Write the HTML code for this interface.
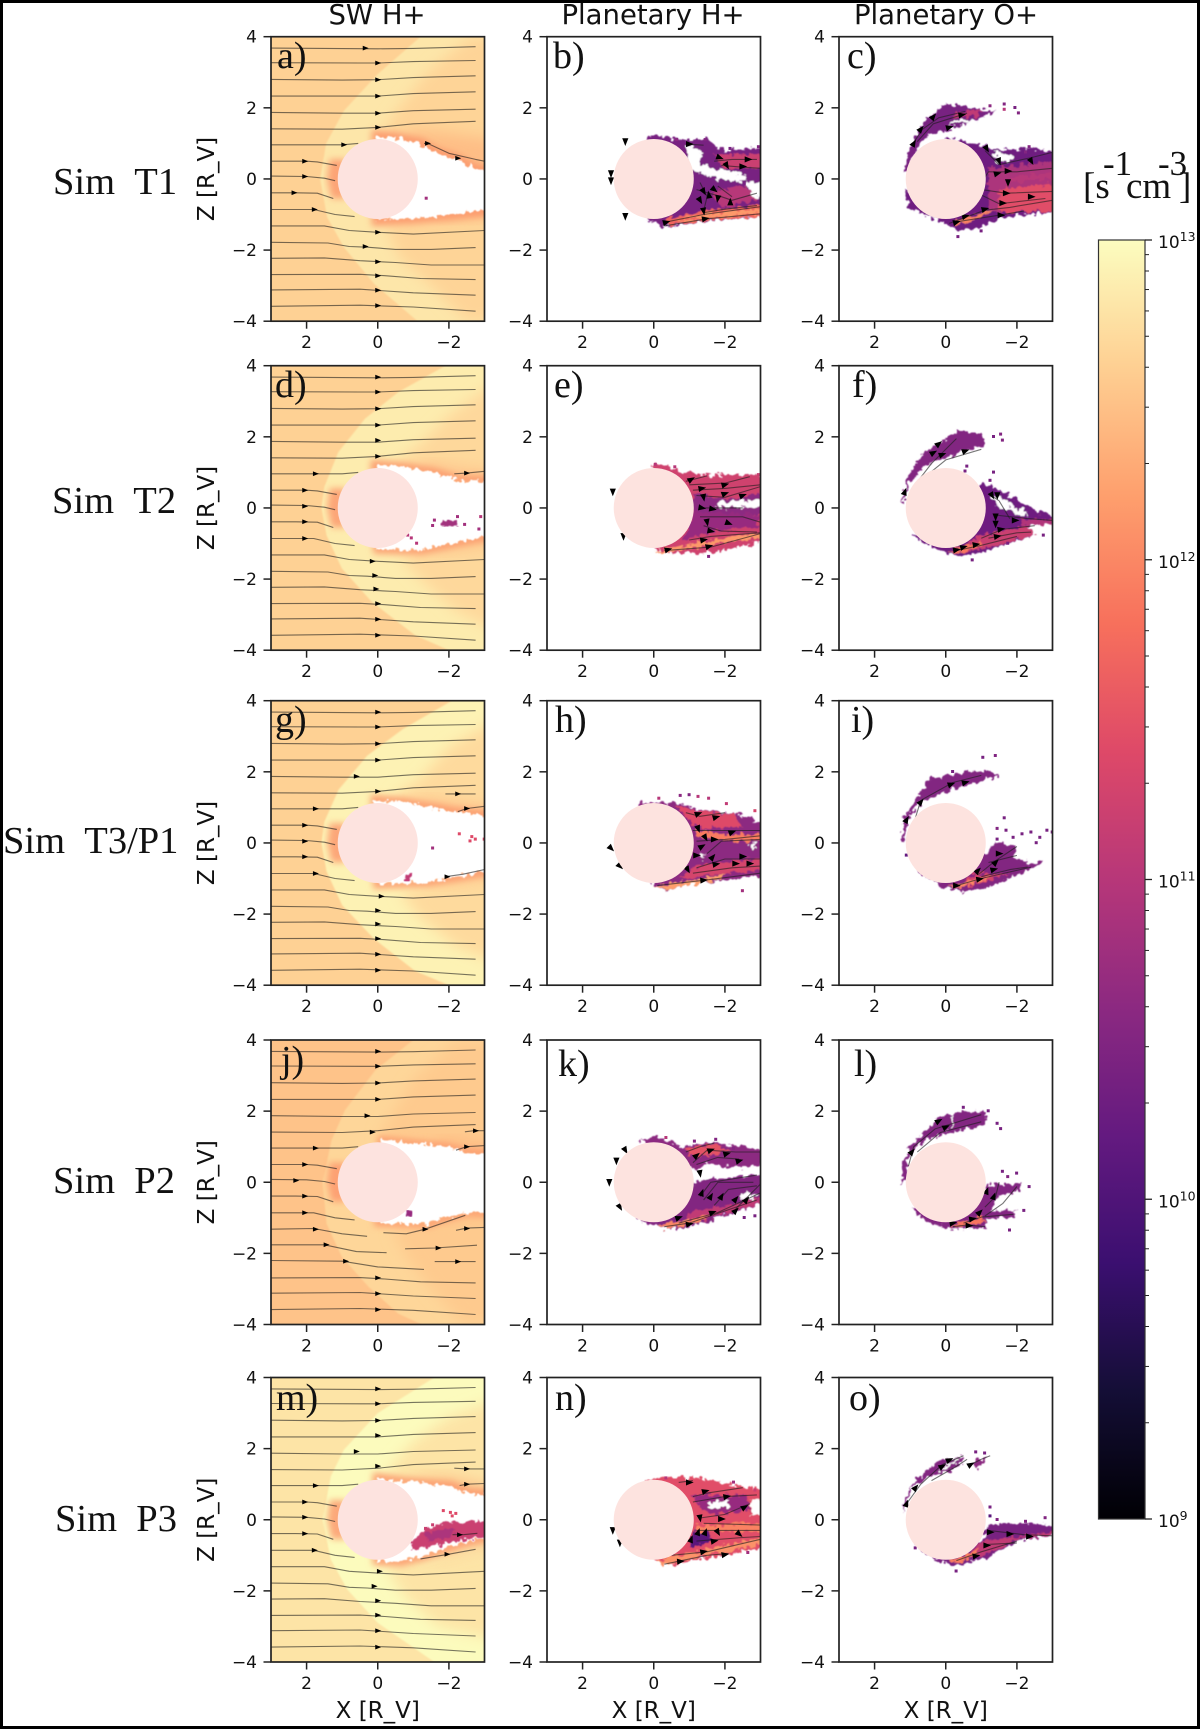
<!DOCTYPE html>
<html lang="en">
<head>
<meta charset="utf-8">
<title>Ion production rate maps</title>
<style>
html,body{margin:0;padding:0;background:#fff;}
svg{display:block;}
.dj{font-family:"DejaVu Sans","Liberation Sans",sans-serif;fill:#111;}
.tm{font-family:"Liberation Serif","Times New Roman",serif;fill:#111;}
</style>
</head>
<body>
<svg id="figure" xmlns="http://www.w3.org/2000/svg" width="1200" height="1729" viewBox="0 0 1200 1729">
  <defs>
    <filter id="soft" x="-10%" y="-10%" width="120%" height="120%"><feGaussianBlur stdDeviation="0.7"/></filter>
    <filter id="tailBlur" x="-20%" y="-20%" width="140%" height="140%"><feGaussianBlur stdDeviation="7"/></filter>
    <filter id="haloBlur" x="-20%" y="-20%" width="140%" height="140%"><feGaussianBlur stdDeviation="3.5"/></filter>
    <filter id="rough" x="-10%" y="-10%" width="120%" height="120%">
      <feTurbulence type="fractalNoise" baseFrequency="0.2" numOctaves="2" seed="4" result="n"/>
      <feDisplacementMap in="SourceGraphic" in2="n" scale="10" xChannelSelector="R" yChannelSelector="G" result="d"/>
      <feGaussianBlur in="d" stdDeviation="0.4"/>
    </filter>
  </defs>
  <rect x="0" y="0" width="1200" height="1729" fill="#fff"/>

  <g id="panels"></g>
  <g id="colorbar"></g>

  <text class="dj" x="377" y="24" font-size="27.5" text-anchor="middle">SW H+</text>
  <text class="dj" x="653" y="24" font-size="27.5" text-anchor="middle">Planetary H+</text>
  <text class="dj" x="946" y="24" font-size="27.5" text-anchor="middle">Planetary O+</text>

  <text class="tm" x="53" y="194" font-size="38.5">Sim&#160;&#160;T1</text>
  <text class="tm" x="52" y="513" font-size="38.5">Sim&#160;&#160;T2</text>
  <text class="tm" x="3" y="853" font-size="38.5">Sim&#160;&#160;T3/P1</text>
  <text class="tm" x="53" y="1193" font-size="38.5">Sim&#160;&#160;P2</text>
  <text class="tm" x="55" y="1531" font-size="38.5">Sim&#160;&#160;P3</text>

  <g id="panel-letters" class="tm" font-size="38">
    <text class="tm" x="277" y="68">a)</text>
    <text class="tm" x="553" y="68">b)</text>
    <text class="tm" x="847" y="68">c)</text>
    <text class="tm" x="275" y="397">d)</text>
    <text class="tm" x="554" y="397">e)</text>
    <text class="tm" x="852" y="397">f)</text>
    <text class="tm" x="275" y="732">g)</text>
    <text class="tm" x="555" y="732">h)</text>
    <text class="tm" x="851" y="732">i)</text>
    <text class="tm" x="281" y="1072">j)</text>
    <text class="tm" x="558" y="1076">k)</text>
    <text class="tm" x="854" y="1076">l)</text>
    <text class="tm" x="276" y="1410">m)</text>
    <text class="tm" x="555" y="1410">n)</text>
    <text class="tm" x="849" y="1410">o)</text>
  </g>

  <g class="tm" font-size="37">
    <text class="tm" x="1083" y="198">[s</text>
    <text class="tm" x="1103" y="175" font-size="35">-1</text>
    <text class="tm" x="1126" y="198">cm</text>
    <text class="tm" x="1158" y="175" font-size="35">-3</text>
    <text class="tm" x="1179" y="198">]</text>
  </g>

  <rect x="1.5" y="1.5" width="1197" height="1726" fill="none" stroke="#000" stroke-width="3"/>
</svg>

<script>
/* ---------- shared axis data ---------- */
const xTicks = [2, 0, -2];
const zTicks = [4, 2, 0, -2, -4];
const xRange = [3, -3];
const zRange = [4, -4];
const colorDecades = [13, 12, 11, 10, 9];
const minorMultipliers = [2, 3, 4, 5, 6, 7, 8, 9];
const magmaStops = ['#000004','#140e36','#3b0f70','#641a80','#8c2981','#b73779','#de4968','#f7705c','#fe9f6d','#fecf92','#fcfdbf'];
const planetRadius = 1.125;
const rowNames = ['t1','t2','t3-p1','p2','p3'];

/* ---------- solar-wind panels (a, d, g, j, m): log10 levels ---------- */
const upstreamLevels = [12.62, 12.62, 12.62, 12.5, 12.78];
const sheathLevels = [12.80, 12.85, 12.90, 12.66, 12.98];
const tailLevels = [12.64, 12.68, 12.70, 12.56, 12.78];
const haloLevel = 12.1;
const haloWidths = [12, 9, 9, 7, 10];

const shockCurves = [
 [-1.2,4, 0,2.95, .95,1.92, 1.45,1, 1.62,0, 1.42,-1.08, .95,-1.92, .1,-2.95, -1.12,-4],
 [-1.9,4, -.58,3.26, .36,2.51, 1.11,1.57, 1.5,.6, 1.58,0, 1.44,-.77, 1.01,-1.7, .17,-2.64, -1.05,-3.58, -2,-4],
 [-2.08,4, -.7,3.2, .3,2.45, 1.1,1.5, 1.5,.6, 1.58,0, 1.44,-.8, 1,-1.75, .1,-2.7, -1.05,-3.6, -2,-4],
 [-1,4, .07,3.15, .92,2.03, 1.3,1.18, 1.55,0, 1.44,-1.16, 1.01,-2.1, .26,-2.94, -.58,-3.7, -1.24,-4],
 [-1.59,4, 0,3, .95,1.97, 1.32,1.22, 1.55,0, 1.32,-1.12, .85,-1.97, 0,-2.9, -1.59,-4]
];
const tailAreas = [
 [-2.6,4,-1.4,3,-.6,2,-.1,1.3,-3,.3,-3,-.8,-.2,-1.3,-.6,-2.2,-1.6,-3.1,-2.5,-4,-3.4,-4,-3.4,4],
 [-3.4,3.6,-2,2.6,-1.2,1.8,-.5,1.3,-3,.3,-3,-.8,-.6,-1.4,-1.3,-2.1,-2.2,-2.9,-3.4,-3.5],
 [-3.4,3.5,-2,2.7,-1.2,1.8,-.4,1.3,-3,.3,-3,-.8,-.6,-1.4,-1.2,-2.1,-2.2,-2.9,-3.4,-3.4],
 [-2.2,4,-1,2.9,-.4,1.9,0,1.3,-3,.3,-3,-.8,-.4,-1.3,-.8,-2.1,-1.5,-3,-2.4,-4,-3.4,-4,-3.4,4],
 [-3.4,3.4,-2,2.9,-1,2.2,-.2,1.3,-3,.3,-3,-.8,-.2,-1.3,-.7,-2.1,-1.7,-3,-3.4,-3.4]
];
const noseHalo = [1.35,.55, 1.42,0, 1.3,-.55, .9,-.55, .9,.55];
const haloPatches = [
 [[-.8,1.38,-1.8,1.3,-3.3,1.1,-3.3,.05,-2,.6,-1,1],[-1.5,-1.1,-3.3,-.7,-3.3,-1.05,-1.8,-1.2]],
 [[-1.2,1.3,-2.2,1.1,-3.3,1,-3.3,.65,-1.5,.95],[-1.3,-1.28,-2.3,-1.15,-3.3,-1,-3.3,-.65,-2,-.95]],
 [[-1,1.3,-2,1.15,-3.3,1,-3.3,.7,-1.5,.95],[-1.3,-1.25,-2.3,-1.1,-3.3,-.95,-3.3,-.65,-2.2,-.85]],
 [[-1.6,1.25,-3.3,1.05,-3.3,.7,-1.8,.95],[-1.6,-1.2,-2.5,-1,-3.3,-.98,-3.3,-.8,-2.2,-.9]],
 [[-.9,1.3,-2.2,1.2,-3.3,.95,-3.3,.6,-2,.9],[-1.2,-1.22,-2.4,-.95,-3.3,-.75,-3.3,-.42,-2.3,-.7]]
];
const wakeOutlines = [
 [0,1.2,-.5,1.15,-1.2,.98,-1.6,.75,-2.2,.55,-2.7,.3,-3.3,.12,-3.3,-.85,-2,-1,-1,-1.1,0,-1.15],
 [.07,1.22,-.77,1.15,-1.52,1.01,-2.27,.78,-3.3,.75,-3.3,-.75,-2.08,-1,-1.24,-1.19,0,-1.16],
 [.07,1.22,-.77,1.15,-1.43,1.01,-2.18,.87,-3.3,.76,-3.3,-.75,-2.46,-.91,-1.43,-1.1,0,-1.16],
 [-.1,1.2,-.96,1.1,-1.9,1,-2.46,.85,-3.3,.77,-3.3,-.86,-2.46,-.86,-1.7,-1.07,-1.43,-1.18,0,-1.14],
 [0,1.17,-.65,1.08,-2.05,.94,-2.53,.75,-3.3,.68,-3.3,-.42,-2.33,-.66,-1.2,-1.03,-.65,-1.17,0,-1.14]
];
const wakeInclusions = [
 [],
 [[10.8,[-1.8,-.35,-2.2,-.35,-2.25,-.52,-1.8,-.52]]],
 [[11.1,[-.75,-.9,-.95,-.85,-.95,-1.05,-.75,-1.05]]],
 [[10.7,[-.8,-.82,-.95,-.8,-.95,-.95,-.8,-.95]]],
 [[11.2,[-1.02,-.56,-1.3,-.28,-1.87,-.09,-3.3,0,-3.3,-.42,-2.24,-.61,-.93,-.84]],
  [10.9,[-1.3,-.4,-1.9,-.25,-2.2,-.25,-2.1,-.45,-1.4,-.6]]]
];
const wakeSpecks = [
 [[-1.32,-.5,10.8]],
 [[-1.5,-.45,10.8],[-1.55,-.3,10.8],[-2.2,-.2,10.8],[-2.4,-.42,10.8],[-2.8,-.55,10.8],[-2.85,-.2,11],[-.9,-.8,11],[-.8,-.72,11],[-1.05,-.95,11]],
 [[-2.25,.3,11.4],[-2.55,.1,11.4],[-2.6,.22,11.4],[-2.7,.15,11.4],[-2.95,.15,11.4],[-1.5,-.1,10.8]],
 [],
 [[-1.8,.3,11.4],[-2,.25,11.4],[-2.15,.22,11.4],[-2.05,.15,11.4],[-1.5,-.1,11.2],[-1.3,-.2,11.2]]
];

/* streamlines as X,Z points */
const upperLines = [
 [3,3.68, 0,3.66, -1,3.67, -2.75,3.72],
 [3,3.27, .5,3.26, 0,3.26, -1,3.3, -2.75,3.33],
 [3,2.8, 1,2.78, 0,2.79, -1,2.85, -2.75,2.9],
 [3,2.33, 0,2.33, -1,2.4, -2.75,2.45],
 [3,1.87, 1,1.85, 0,1.85, -1,1.92, -2.75,1.96],
 [3,1.41, 1,1.4, 0,1.45, -1,1.55, -2.75,1.62],
 [3,.96, 1,.96, .55,1]
];
const forwardLines = [
 [3,.5, 2,.5, 1.7,.48, 1.15,.38],
 [3,.08, 2,.07, 1.5,.02, 1.2,-.05],
 [3,-.39, 2.3,-.39, 1.7,-.4, 1.25,-.55],
 [3,-.86, 1.8,-.86, 1.2,-1, .65,-1.06]
];
const flankLines = [
 [3,-1.32, 1.5,-1.32, .8,-1.45, 0,-1.5, -1,-1.55, -3,-1.45],
 [3,-1.78, 1.4,-1.8, .8,-1.9, .3,-1.92, -.5,-1.98, -1.5,-1.98, -2.75,-1.93],
 [3,-2.23, 1.5,-2.22, .5,-2.3, -.5,-2.35, -1.5,-2.42, -3,-2.42]
];
const lowerLines = [
 [3,-2.69, .5,-2.68, -.2,-2.72, -1.2,-2.8, -2.75,-2.83],
 [3,-3.12, .5,-3.1, -1,-3.2, -2.75,-3.27],
 [3,-3.58, .5,-3.55, -1,-3.6, -2.75,-3.72]
];
const extraLinesSW = [
 [[-1.3,1,-1.4,1,-2,.72,-2.75,.55,-3,.5]],
 [[-2.15,.96,-2.5,.98,-3,1.03]],
 [[-1.9,1.38,-2.3,1.38,-2.75,1.38],[-2.25,.88,-2.5,.97,-3,1.03],[-1.9,-.95,-2.4,-.88,-3,-.75]],
 [[-2.45,1.42,-2.7,1.45,-3,1.45],[-2.2,.9,-2.5,1,-3,1.03]],
 [[-2.15,1.45,-2.5,1.43,-3,1.43],[-2.3,.96,-2.5,1,-3,1.02],[-1.2,-1.1,-2,-.97,-2.75,-.83],[-2.1,-.42,-2.4,-.42,-2.8,-.38]]
];
const p2Replacement = [
 [3,-1.32, 1.8,-1.3, 1,-1.45, .3,-1.52],
 [-.16,-1.42, -.8,-1.45, -1.33,-1.32, -2.46,-.93],
 [-2.2,-1.35, -2.5,-1.29, -3,-1.27],
 [3,-1.76, 1.5,-1.76, .6,-1.95, -.25,-1.98],
 [-.77,-1.87, -1.6,-1.85, -2.79,-1.77],
 [3,-2.2, 1,-2.22, 0,-2.38, -1.3,-2.45],
 [-1.6,-2.23, -2.75,-2.23]
];
const swArrows = [
 [[.35,3.68],[0,3.26],[0,2.79],[0,2.33],[0,1.85],[0,1.45],[.95,.96],[2.05,.5],[2.05,.07],[2.35,-.39],[1.78,-.86],[0,-1.5],[.35,-1.9],[0,-2.33],[0,-2.72],[0,-3.13],[0,-3.56],[-1.4,1],[-2.25,.58]],
 [[0,3.68],[0,3.26],[0,2.79],[0,2.33],[0,1.9],[0,1.45],[1.75,.96],[2.05,.5],[2.05,.05],[2.05,-.39],[2.05,-.86],[.15,-1.5],[.08,-1.9],[.05,-2.28],[0,-2.69],[0,-3.13],[0,-3.58],[-2.5,.98]],
 [[0,3.68],[0,3.26],[0,2.79],[0,2.33],[.6,1.87],[0,1.45],[1.75,.96],[2.05,.5],[2.05,.05],[2.05,-.39],[1.75,-.86],[-.1,-1.5],[0,-1.9],[0,-2.28],[0,-2.69],[0,-3.13],[0,-3.58],[-2.25,1.38],[-2.5,.97],[-1.95,-.95]],
 [[0,3.68],[0,3.26],[0,2.79],[0,2.33],[.3,1.87],[.15,1.41],[1.75,.96],[2.05,.5],[2.3,.05],[2.05,-.39],[2.05,-.86],[1.75,-1.32],[1.45,-1.76],[.9,-2.22],[0,-2.69],[0,-3.13],[0,-3.58],[-2.75,1.45],[-2.5,1],[-1.33,-1.32],[-1.7,-1.85],[-2.25,-2.23],[-2.5,-1.3]],
 [[0,3.68],[0,3.26],[0,2.79],[0,2.37],[.6,1.92],[0,1.51],[1.75,.96],[2.05,.5],[2.05,.07],[2.05,-.39],[1.78,-.86],[-.05,-1.45],[.1,-1.87],[0,-2.28],[0,-2.68],[0,-3.12],[0,-3.58],[-2.5,1.43],[-2.5,1],[-1.95,-.97],[-2.3,-.42]]
];

/* ---------- planetary panels: [log10 level or null for empty, outline] ---------- */
const plumeB = [
 [10.4,[.1,1.25,-.7,1.1,-1.5,1.12,-1.9,.8,-3.3,.88,-3.3,-1.03,-1.5,-1.17,-.35,-1.34,.15,-1.2,.5,0]],
 [11.2,[-1.7,.7,-3.3,.7,-3.3,.35,-2,.3]],
 [null,[-.9,.95,-1.35,.8,-1.3,.45,-1.65,.3,-2.1,.2,-2.6,.12,-2.6,-.05,-2.1,-.05,-1.7,.02,-1.3,.15,-1,.3]],
 [null,[-2.6,-.1,-3.3,-.05,-3.3,-.5,-2.8,-.55]],
 [11,[-1.6,-.35,-2.6,-.2,-2.9,-.6,-1.9,-.8]],
 [11.7,[-.3,-1.15,-1.4,-.9,-3.3,-.7,-3.3,-1.03,-1.5,-1.15,-.4,-1.3]],
 [12.15,[-.5,-1.2,-1.4,-1,-3.3,-.82,-3.3,-.95,-1.5,-1.08]]
];
const plumeC = [
 [10.4,[1.17,.23,1.04,.8,.73,1.45,.35,1.87,-.03,2.1,-.97,1.97,-1.4,1.9,-.78,1.64,-.03,1.36,.48,1.27,.8,.9,1.1,.14]],
 [null,[-.1,1.6,-.6,1.68,-.75,1.62,-.1,1.5]],
 [11.1,[-.85,1.75,-1,1.95,-.4,1.9,-.2,1.75]],
 [10.3,[0,1.15,-.9,.98,-1.6,.8,-2.4,.89,-3.3,.66,-3.3,-.89,-1.53,-1.08,-.97,-1.36,-.4,-1.45,.23,-1.17,1.04,-.8,1.15,-.2,.4,-1]],
 [null,[-1.3,.75,-1.7,.7,-1.9,.55,-1.5,.45]],
 [10.9,[-1.2,.3,-3.3,.5,-3.3,-.85,-1.2,-.9]],
 [11.45,[-1.5,-.3,-3.3,-.1,-3.3,-.88,-1.5,-.95]],
 [11,[-1.8,.05,-3.3,.22,-3.3,.05,-1.8,-.1]],
 [11.95,[-.2,-1.2,-1,-.95,-1.35,-.85,-.9,-1.1,-.3,-1.3]]
];
const plumeE = [
 [11.25,[0,1.25,-.88,1.02,-1.58,.93,-3.3,.93,-3.3,-.9,-1.53,-1.27,-.37,-1.27,0,-1.09,.5,0]],
 [10.6,[-1.1,.45,-2,.25,-3.3,.45,-3.3,-.1,-1.5,-.42,-1.1,-.7]],
 [null,[-1.78,.18,-3.3,.25,-3.3,.02,-1.78,.02]],
 [10.7,[-1.1,-.1,-3,-.2,-2.9,-.5,-1.7,-.65,-.85,-.9]],
 [12.15,[-.05,-1.2,-1.4,-.95,-3.3,-.65,-3.3,-.8,-1.4,-1.08,-.3,-1.27]]
];
const plumeF = [
 [10.5,[1.23,.22,1.03,.97,.62,1.54,.12,1.87,-.33,2.15,-.98,2.15,-1.09,1.91,-1.09,1.77,-.08,1.44,.62,1.16,1.03,.69,1.18,.13]],
 [10.3,[-1.09,.69,-1.69,.41,-2.29,.04,-3.3,-.36,-2.29,-.52,-2.5,-.76,-1.09,-1.23,-.38,-1.37,.12,-1.23,.9,-.8]],
 [null,[-1.3,.32,-1.65,.25,-2,-.1,-1.5,0]],
 [null,[-1.85,.03,-2.3,-.1,-2.3,-.2,-1.95,-.2]],
 [11.2,[-.9,-.8,-2.3,-.5,-2.5,-.76,-1.09,-1.15,-.3,-1.25]],
 [11.85,[-.05,-1.22,-1,-.92,-1,-1.05,-.3,-1.28]],
 [10.95,[-2.1,-.32,-3.3,-.33,-3.3,-.42,-2.2,-.5]]
];
const plumeH = [
 [10.6,[.43,1.12,-.67,1.12,-1.28,.93,-2.48,.79,-3.3,.46,-3.3,-.9,-1.28,-1.13,-.37,-1.32,0,-1.18,.5,0]],
 [11.4,[-.6,1.08,-1.2,.9,-2.3,.8,-2.5,.45,-1.3,.4,-1.05,.6]],
 [11.9,[-1.2,.35,-2.2,.22,-3.3,.25,-3.3,.08,-2.2,.05,-1.2,.2]],
 [null,[-2.7,-.02,-2.85,-.02,-2.85,-.14,-2.7,-.14]],
 [null,[-1.32,-.3,-1.42,-.3,-1.42,-.42,-1.32,-.42]],
 [11.3,[-1.3,-.6,-3.3,-.4,-3.3,-.75,-1.5,-.9,-.7,-1]],
 [12.2,[-.05,-1.22,-1.4,-1,-2,-.85,-1.9,-1,-1.3,-1.13,-.4,-1.3]]
];
const plumeI = [
 [10.5,[1.23,.04,1.18,.69,.83,1.26,.42,1.82,-.38,1.96,-1.09,2.05,-1.49,1.87,-.89,1.72,0,1.44,.67,1.16,1.03,.79,1.15,.05]],
 [10.5,[-1.39,0,-2,-.1,-1.89,-.34,-2.39,-.62,-2.7,-.48,-2.7,-.58,-1.89,-.95,-1.09,-1.27,-.48,-1.37,.12,-1.23,.8,-.8,-1.1,-.3]],
 [11.3,[-.7,-.9,-1.8,-.85,-2.3,-.68,-1.1,-1.1,-.4,-1.25]],
 [12,[-.05,-1.22,-1,-1,-1.3,-.9,-1,-1.08,-.4,-1.25]]
];
const plumeK = [
 [10.6,[-.07,1.28,-.78,1,-1.68,1.14,-3.3,.86,-3.3,.53,-2.39,.39,-1.48,.53,-1.18,.35,-.9,.5,.4,1.2]],
 [11.5,[-.9,.95,-1.7,1.08,-2.2,.85,-1.4,.75,-1,.75]],
 [10.5,[-1.18,-.03,-1.58,.11,-2.89,.2,-3.3,.1,-3.3,-.5,-1.88,-.97,-.95,-1.25,-.27,-1.31,.33,-1.1,.5,-.8]],
 [null,[-1.35,.25,-1.5,.35,-1.6,.15,-1.45,.1]],
 [null,[-2.5,-.25,-2.9,-.35,-2.8,-.5,-2.45,-.45]],
 [11.1,[-1,-.85,-2,-.65,-3.3,-.4,-3.3,-.5,-1.88,-.92,-.95,-1.2]],
 [12,[-.1,-1.22,-1,-1.05,-1.6,-.9,-1.3,-1.12,-.3,-1.3]]
];
const plumeL = [
 [10.5,[1.28,-.07,1.18,.72,.83,1.19,.22,1.8,-.23,1.94,-1.09,2.03,-1.14,1.61,.02,1.38,.72,1.1,1.08,.63,1.15,0]],
 [null,[-.15,1.9,-.2,1.9,-.2,1.55,-.15,1.55]],
 [10.5,[-1.19,-.07,-2.1,-.03,-2.1,-.22,-1.49,-.4,-1.29,-.78,-1.99,-.82,-1.94,-.95,-1.14,-1.01,-1.14,-1.29,.02,-1.29,.52,-1.11,1,-.7,-.95,-.5]],
 [11.85,[-.1,-1.25,-1,-.98,-1.1,-1.1,-.5,-1.24]]
];
const plumeN = [
 [11.45,[-.27,1.2,-1.18,1.17,-2.48,.94,-3.3,.8,-3.3,-.73,-2.08,-.98,-.57,-1.27,0,-1.12,.5,0,.2,1.1]],
 [10.7,[-1.1,.7,-2.6,.7,-2.7,.25,-1.6,.15,-1.2,.45]],
 [null,[-1.55,.5,-2.1,.55,-2.1,.33,-1.55,.33]],
 [null,[-2.7,.55,-3.3,.6,-3.3,.1,-2.75,.12]],
 [10.1,[-1.05,-.3,-1.55,-.25,-1.6,-.6,-1.05,-.8]],
 [11.95,[-1.2,-.15,-3.3,-.1,-3.3,-.3,-1.2,-.35]],
 [12.1,[0,-1.18,-1.4,-.85,-3.3,-.45,-3.3,-.65,-1.4,-1,-.4,-1.25]]
];
const plumeO = [
 [10.5,[1.23,.19,1.08,.75,.83,1.12,.22,1.64,-.48,1.8,-.48,1.6,-.08,1.36,.42,1.22,.93,.94,1.13,.37]],
 [null,[.2,1.42,-.3,1.68,-.4,1.68,.1,1.38]],
 [10.6,[-.68,1.6,-1.18,1.78,-.9,1.45]],
 [10.4,[-1.19,-.14,-2.19,-.09,-3.3,-.19,-3.3,-.42,-2.09,-.56,-1.09,-1.08,-.28,-1.31,.32,-1.12,.9,-.7,-1,-.6]],
 [11.1,[-1,-.6,-3.3,-.3,-3.3,-.42,-2.09,-.52,-1.09,-1,-.5,-1.1]],
 [11.9,[-.05,-1.15,-.9,-.85,-.85,-1,-.3,-1.22]]
];
const plumeLayers = [
 [plumeB, plumeC], [plumeE, plumeF], [plumeH, plumeI], [plumeK, plumeL], [plumeN, plumeO]
];

const plumeLines = [
 [[[-.3,-1.22,-1.4,-1,-3,-.78],[-.3,-1.32,-1.5,-1.12,-3,-.98],[-1.4,-.95,-2,-.85,-2.9,-.75],[-.9,.98,-1.4,.95],[-1.7,.5,-2.2,.55,-2.9,.55],[-1.9,.38,-2.5,.33,-3,.3],[-1.3,-.1,-1.5,-.5,-1.4,-.9],[-1.2,-.3,-1.9,-.5,-2.2,-.6,-2.9,-.4],[-1.8,-.2,-2.2,-.5]],
  [[.95,.95,.65,1.4,.2,1.72,-.55,1.9],[.8,1.05,.35,1.55,-.6,1.85],[-.1,-1.25,-1.1,-.88,-1.8,-.8,-3,-.6],[-.35,-1.2,-1.5,-1.02,-2.2,-.9],[-.9,-.4,-1.5,-.7,-2.8,-.55],[-1,-.1,-1.2,.2,-2,.2,-3,.3],[-1,-.3,-1.7,-.4,-3,-.35],[-1.1,.8,-1.5,.4,-2.4,.6,-3,.75]]],
 [[[-.9,.75,-1.5,.9],[-1,.65,-2,.7,-2.7,.88],[-1.1,.5,-2,.55,-3,.65],[-1.2,.35,-2,.3,-3,.6],[-1.3,0,-2.5,0],[-1.3,-.25,-2.5,-.25,-3,-.4],[-1.4,-.5,-1.9,-.65,-2.9,-.68],[-1,-.9,-1.6,-.8,-3,-.7],[-.3,-1.2,-1.6,-1.1,-3,-.72]],
  [[.9,.6,.4,1.25,-.3,1.95],[.8,.7,0,1.35,-1,1.65],[-1.2,.4,-1.5,.2,-1.8,-.3],[-1.4,-.2,-2.3,-.3,-3,-.35],[-1,-.85,-1.6,-.6,-2.5,-.5],[-.3,-1.2,-1,-1.05,-2,-.8],[-1.2,-.85,-2,-.7,-2.4,-.68]]],
 [[[-.9,.85,-1.3,.75,-2,.85],[-1.1,.35,-2,.35,-3,.35],[-1.2,.05,-2,.1,-3,.2],[-1.5,-.3,-1.9,.05,-3,.1],[-1.2,-.7,-2,-.45,-3,-.45],[-1.1,-.85,-2.2,-.7,-3,-.65],[-.1,-1.2,-1.4,-1.05,-3,-.85]],
  [[.9,.55,.7,1.2,-.2,1.7,-1,1.9],[-.9,-.9,-1.4,-.5,-2,-.1],[-1,-.95,-1.8,-.75,-2.3,-.68],[-.3,-1.2,-1,-1,-2.4,-.68],[-1.2,-.55,-2,-.35]]],
 [[[-.9,.85,-1.3,1,-1.7,1.1],[-1.1,.55,-1.5,.9,-2.3,.85,-3,.85],[-1.2,.5,-1.8,.7,-2.4,.65],[-1.3,-.4,-1.6,0,-2.9,.2],[-1.4,-.5,-1.8,0,-2.8,0],[-1.7,-.65,-2.1,-.2,-2.9,-.1],[-2.3,-.75,-3,-.05],[-.7,-1.15,-1.8,-.85,-3,-.3],[-.3,-1.25,-1,-1.15,-2.9,-.5]],
  [[1.05,.45,.9,1,.3,1.5,-1,1.9],[.8,.85,.15,1.4,-1,1.7],[-1.1,-.7,-1.4,-.4,-1.5,0],[-1.1,-.95,-1.6,-.6,-2,-.12],[-.5,-1.15,-1,-.98,-1.9,-.9],[-.2,-1.25,-.6,-1.2,-1.1,-1.25]]],
 [[[-.7,1.05,-1.1,1.1],[-1.1,.65,-1.5,.75,-2.5,.9],[-1.1,.5,-2,.65,-2.9,.7],[-1.3,.05,-2,.15,-2.7,.45],[-1.4,-.1,-3,-.15],[-1.2,-.3,-3,-.3],[-1.2,-.6,-2.5,-.5,-3,-.47],[-.5,-1,-1.5,-.9,-3,-.55],[-.3,-1.25,-1.5,-1,-2.1,-.95]],
  [[1.1,.45,.7,1,.1,1.55,-.5,1.8],[.4,1.1,-.3,1.5,-.6,1.7],[-.7,1.55,-1,1.7,-1.25,1.8],[-1.2,-.3,-2.2,-.42,-3,-.45],[-1.1,-.7,-2,-.65],[-.3,-1.15,-1,-.9,-2,-.6]]]
];
const plumeArrows = [
 [[[-.35,-1.22,-15],[-1.45,-1.12,-10],[-1.4,-.9,80],[-1.4,-.35,60],[-1.55,-.45,-100],[-1.8,-.55,100],[-2.15,-.65,-90],[-1.7,-.3,40],[-1.3,-.6,60],[-1.85,.6,20],[-2.65,.55,0],[-2.05,.38,60],[-2.5,.35,0],[-1,.98,0],[1.2,.15,90],[1.2,-.05,90],[.8,-1.05,90],[.8,1.05,90]],
  [[.35,1.75,-50],[.7,1.4,-50],[.9,1,-60],[-.45,1.8,-10],[-.1,1.45,-15],[-1.15,.85,60],[-1.5,.5,70],[-1.45,.15,-15],[-1.75,.22,0],[-1.75,-.1,90],[-1.7,-.4,0],[-1.6,-.68,0],[-2.4,-.5,0],[-2.4,.5,60],[-1.1,-.85,-15],[-.55,-1.05,-15],[-1.55,-1.02,0],[-.3,-1.22,-15]]],
 [[[-1.05,.8,-30],[-1.35,.55,-10],[-2,.65,-15],[-2,.4,-20],[-2.5,.35,-20],[-1.4,.3,80],[-1.35,0,10],[-1.65,-.03,10],[-1.5,-.4,80],[-2.1,-.43,20],[-1.6,-.65,10],[-1.4,-.9,-10],[-.4,-1.17,-15],[-1.55,-1.08,-15],[1.15,.45,90],[.85,-.8,90]],
  [[.2,1.8,-40],[.35,1.55,-30],[.1,1.5,-20],[-.55,1.6,-20],[1.15,.45,-70],[-1.3,.35,60],[-1.45,.35,90],[-1.4,-.25,90],[-1.4,-.45,90],[-1.95,-.35,0],[-1.55,-.6,-10],[-1.45,-.8,-10],[-.5,-1.1,-15],[-.85,-1.03,-10],[-.3,-1.18,-10]]],
 [[[-1.25,.82,-20],[-1.75,.72,-15],[-1.25,.4,70],[-2.2,.3,-20],[-1.45,.15,60],[-1.7,.1,0],[-1.35,-.1,-30],[-1.2,-.35,0],[-1.65,-.4,-50],[-2.5,-.38,0],[-.95,-.75,60],[-1.75,-.6,-10],[-2.3,-.58,0],[-2.7,-.58,0],[-1.4,-1.05,-5],[1.2,-.15,45],[.95,-.65,45]],
  [[1.1,.65,-60],[.7,1.15,-50],[-.15,1.65,-20],[-.55,1.7,-15],[-1.5,-.3,0],[-1.4,-.55,-45],[-.9,-.78,-45],[-1.35,-.75,-15],[-.95,-1.02,-10],[-.3,-1.2,0]]],
 [[[-1.2,.75,-40],[-1.6,.9,-20],[-2.05,.8,-15],[-2.4,.6,-15],[-1.3,.25,80],[-1.35,-.3,-70],[-1.6,-.4,-60],[-1.9,-.4,-60],[-2.3,-.48,-50],[-2.6,-.5,-50],[-1.65,-.85,-20],[-2.3,-.8,-45],[-.7,-1,-20],[-1,-1.18,-10],[1.25,0,90],[1.05,.6,90],[.8,.9,60],[.95,-.7,60]],
  [[.95,.85,-50],[.2,1.72,-30],[0,1.55,-25],[-1.15,-.25,-70],[-1.35,-.4,-70],[-.95,-.85,-45],[-.75,-1.03,-10],[-.65,-1.22,0],[-.2,-1.15,-10]]],
 [[[-1,1.05,0],[-1.45,.8,-15],[-2.05,.65,-10],[-2.55,.35,-30],[-1.3,.05,80],[-1.9,.02,0],[-1.25,-.35,-70],[-1.45,-.35,-70],[-1.8,-.35,60],[-2.4,-.4,40],[-1.05,-.55,-70],[-1.7,-.6,-10],[-1.4,-.9,-10],[-2,-.98,-10],[-.75,-1.17,-5],[1.15,-.3,90],[.95,-.65,90]],
  [[1.1,.45,-70],[.85,.9,-50],[.1,1.5,-30],[-.1,1.68,-25],[-.7,1.55,-30],[-1.25,-.35,0],[-1.8,-.4,0],[-2.35,-.47,0],[-1.15,-.72,0],[-.85,-1.02,-10]]]
];
const plumeSpecks = [
 [[[-.6,1.15,10.6],[-1.4,1.15,10.5],[-2.9,.95,10.5],[-2.1,.9,10.4],[-2.5,-.1,10.4]],
  [[-1.9,2.05,10.4],[-1.6,2,11],[-1.6,2.15,10.5],[-1.2,2.1,10.6],[-2,1.9,10.5],[-.3,-1.58,10.4],[-.95,-1.42,10.4],[-2.3,.95,10.5],[-2.2,.8,10.5]]],
 [[[0,1.27,11],[-.55,1.2,11],[-2.9,.98,11.2],[-1.5,-1.32,10.5]],
  [[-1.5,2.12,10.5],[-1.55,1.95,10.5],[-1.3,2.05,10.4],[-1.2,.82,10.4],[-1.3,1.05,10.4],[-.55,1.22,10.4],[-.5,1.08,10.4],[-2.6,-.15,10.4],[-2.7,-.72,10.4],[-1.7,-.95,10.4],[-.7,-1.42,10.4]]],
 [[[-.7,1.38,10.6],[-.95,1.4,10.5],[-1.2,1.35,11],[-1.5,1.3,11],[-2,1.15,11.1],[-2.8,.95,11.3],[-2.45,-1.3,10.8],[-.1,1.3,11]],
  [[-1,2.45,10.4],[-1.35,2.5,10.5],[-.15,2.05,10.4],[-1.6,.75,10.4],[-1.4,.45,10.5],[-1.65,.4,10.4],[-1.85,.2,10.4],[-2.1,.3,10.4],[-2.35,.35,10.4],[-2.6,.2,10.4],[-2.5,.05,10.4],[-2.8,.4,10.4],[-2.95,.35,10.4],[-1.4,.15,10.4],[1.15,-.3,10.2]]],
 [[[-1.1,1.2,10.5],[-1.7,1.25,10.5],[-2.5,-.95,10.4],[-2.8,-.9,10.4],[-2.2,1.0,10.5],[-.3,1.3,11]],
  [[-.45,2.15,10.4],[-1.15,2.05,10.4],[-1.4,1.7,10.4],[-1.5,1.55,10.4],[-1.55,.35,10.4],[-1.95,.3,10.4],[-2.3,-.08,10.4],[-2.15,-.75,10.4],[-1.75,-1.3,10.4],[-1.7,.2,10.5]]],
 [[[-2.2,1.1,10.8],[-2.8,.88,11.2],[-.3,1.22,11],[-2.6,-.88,10.8]],
  [[-.8,1.95,10.4],[-1.05,1.92,10.4],[-1.2,.4,10.4],[-1.2,.15,10.1],[-1.4,.05,10.5],[-2.2,0,10.5],[-2.75,.1,10.5],[-.25,-1.4,10.4],[.9,-.75,10.4]]]
];

/* ---------- layout & scales ---------- */
const colLeft = [271, 547, 839];
const rowTop = [36.7, 365.7, 700.7, 1040, 1377.5];
const axW = 213.5, axH = 284.5;
const cbBox = {x: 1098.5, top: 240, w: 46.5, bottom: 1519};
const svgNS = 'http://www.w3.org/2000/svg';
const panelsRoot = document.getElementById('panels');
const cbRoot = document.getElementById('colorbar');
const defs = document.querySelector('defs');

function make(tag, attrs, parent) {
  const e = document.createElementNS(svgNS, tag);
  for (const k in attrs) e.setAttribute(k, attrs[k]);
  parent.appendChild(e);
  return e;
}
function xScale(left) { return x => left + (xRange[0] - x) / (xRange[0] - xRange[1]) * axW; }
function zScale(top) { return z => top + (zRange[0] - z) / (zRange[0] - zRange[1]) * axH; }
function hexToRgb(h) { return [1, 3, 5].map(i => parseInt(h.substr(i, 2), 16)); }
function magma(level) {
  const t = Math.max(0, Math.min(1, (level - 9) / 4)) * (magmaStops.length - 1);
  const i = Math.min(Math.floor(t), magmaStops.length - 2);
  const a = hexToRgb(magmaStops[i]), b = hexToRgb(magmaStops[i + 1]), f = t - i;
  return 'rgb(' + a.map((v, k) => Math.round(v + (b[k] - v) * f)).join(',') + ')';
}
function pointsOf(flat, sx, sz) {
  const out = [];
  for (let i = 0; i < flat.length; i += 2) out.push(sx(flat[i]).toFixed(1) + ',' + sz(flat[i + 1]).toFixed(1));
  return out.join(' ');
}
function drawStream(flat, sx, sz, parent) {
  const line = make('polyline', {points: pointsOf(flat, sx, sz), fill: 'none', stroke: '#1c1c1c', 'stroke-width': 1.1, 'stroke-opacity': 0.6, 'stroke-linejoin': 'round'}, parent);
  
  
}
function drawArrow(a, sx, sz, parent, size) {
  const px = sx(a[0]), py = sz(a[1]), deg = a[2] || 0;
  const head = make('polygon', {points: '4,0 -3,-2.8 -3,2.8', fill: '#000', transform: 'translate(' + px.toFixed(1) + ' ' + py.toFixed(1) + ') rotate(' + deg + ') scale(' + size + ')'}, parent);
  
  
}
function drawSpeck(s, sx, sz, parent) {
  const cell = make('rect', {x: sx(s[0]).toFixed(1), y: sz(s[1]).toFixed(1), width: 3, height: 3, fill: magma(s[2])}, parent);
  
  
}

function drawAxes(r, c, sx, sz, parent) {
  const left = colLeft[c], top = rowTop[r];
  const frame = make('rect', {x: left, y: top, width: axW, height: axH, fill: 'none', stroke: '#222', 'stroke-width': 1.7}, parent);
  
  
  xTicks.forEach(v => {
    const t = make('line', {x1: sx(v), x2: sx(v), y1: top + axH, y2: top + axH + 7.5, stroke: '#222', 'stroke-width': 1.5}, parent);
    
    
    const l = make('text', {x: sx(v), y: top + axH + 27, 'text-anchor': 'middle', 'font-size': 17, class: 'dj'}, parent);
    
    
    l.textContent = String(v).replace('-', '\u2212');
  });
  zTicks.forEach(v => {
    const t = make('line', {x1: left - 7.5, x2: left, y1: sz(v), y2: sz(v), stroke: '#222', 'stroke-width': 1.5}, parent);
    
    
    const l = make('text', {x: left - 14, y: sz(v) + 6, 'text-anchor': 'end', 'font-size': 17, class: 'dj'}, parent);
    
    
    l.textContent = String(v).replace('-', '\u2212');
  });
  if (c === 0) {
    const cy = top + axH / 2;
    const zl = make('text', {x: 214, y: cy, 'text-anchor': 'middle', 'font-size': 23, class: 'dj', transform: 'rotate(-90 214 ' + cy + ')'}, parent);
    
    
    zl.textContent = 'Z [R_V]';
  }
  if (r === rowTop.length - 1) {
    const xl = make('text', {x: left + axW / 2, y: top + axH + 56, 'text-anchor': 'middle', 'font-size': 23, class: 'dj'}, parent);
    
    
    xl.textContent = 'X [R_V]';
  }
}
function drawPlanet(sx, sz, parent) {
  const body = make('ellipse', {cx: sx(0), cy: sz(0), rx: Math.abs(sx(planetRadius) - sx(0)), ry: Math.abs(sz(planetRadius) - sz(0)), fill: '#fde3df'}, parent);
  
  
}
function panelGroup(r, c) {
  const id = 'clip-' + r + '-' + c;
  const cp = make('clipPath', {id: id}, defs);
  make('rect', {x: colLeft[c], y: rowTop[r], width: axW, height: axH}, cp);
  const g = make('g', {'clip-path': 'url(#' + id + ')'}, panelsRoot);
  
  
  return g;
}

/* solar wind column */
upstreamLevels.forEach((lvl, r) => {
  const sx = xScale(colLeft[0]), sz = zScale(rowTop[r]);
  const g = panelGroup(r, 0);
  const bg = make('rect', {x: colLeft[0], y: rowTop[r], width: axW, height: axH, fill: magma(lvl)}, g);
  
  
  const sheath = make('polygon', {points: pointsOf(shockCurves[r].concat([-3.4, -4, -3.4, 4]), sx, sz), fill: magma(sheathLevels[r]), filter: 'url(#soft)'}, g);
  
  
  const tail = make('polygon', {points: pointsOf(tailAreas[r], sx, sz), fill: magma(tailLevels[r]), filter: 'url(#tailBlur)'}, g);
  
  
  const nose = make('polygon', {points: pointsOf(noseHalo, sx, sz), fill: magma(haloLevel), 'fill-opacity': 0.8, filter: 'url(#haloBlur)'}, g);
  
  
  haloPatches[r].forEach(patch => {
    const hp = make('polygon', {points: pointsOf(patch, sx, sz), fill: magma(haloLevel + 0.2), 'fill-opacity': 0.55, filter: 'url(#tailBlur)'}, g);
    
    
  });
  const halo = make('polygon', {points: pointsOf(wakeOutlines[r], sx, sz), fill: 'none', stroke: magma(haloLevel), 'stroke-width': haloWidths[r], 'stroke-opacity': 0.85, filter: 'url(#haloBlur)'}, g);
  
  
  const wake = make('polygon', {points: pointsOf(wakeOutlines[r], sx, sz), fill: '#fff', filter: 'url(#rough)'}, g);
  
  
  wakeInclusions[r].forEach(layer => {
    const inc = make('polygon', {points: pointsOf(layer[1], sx, sz), fill: magma(layer[0]), filter: 'url(#rough)'}, g);
    
    
  });
  wakeSpecks[r].forEach(s => drawSpeck(s, sx, sz, g));
  const mid = r === 3 ? p2Replacement : flankLines;
  upperLines.concat(forwardLines, mid, lowerLines, extraLinesSW[r]).forEach(l => drawStream(l, sx, sz, g));
  swArrows[r].forEach(a => drawArrow(a, sx, sz, g, 0.85));
  drawPlanet(sx, sz, g);
  drawAxes(r, 0, sx, sz, panelsRoot);
});

/* planetary columns */
plumeLayers.forEach((rowLayers, r) => {
  rowLayers.forEach((layers, k) => {
    const c = k + 1;
    const sx = xScale(colLeft[c]), sz = zScale(rowTop[r]);
    const g = panelGroup(r, c);
    const plume = make('g', {filter: 'url(#rough)'}, g);
    
    
    layers.forEach(layer => {
      const p = make('polygon', {points: pointsOf(layer[1], sx, sz), fill: layer[0] === null ? '#fff' : magma(layer[0])}, plume);
      
      
    });
    plumeSpecks[r][k].forEach(s => drawSpeck(s, sx, sz, g));
    plumeLines[r][k].forEach(l => drawStream(l, sx, sz, g));
    plumeArrows[r][k].forEach(a => drawArrow(a, sx, sz, g, 1.1));
    drawPlanet(sx, sz, g);
    drawAxes(r, c, sx, sz, panelsRoot);
  });
});

/* colour bar */
const cbScale = v => cbBox.bottom - (v - 9) / 4 * (cbBox.bottom - cbBox.top);
const grad = make('linearGradient', {id: 'magmaGrad', x1: 0, y1: 1, x2: 0, y2: 0}, defs);
magmaStops.forEach((col, i) => make('stop', {offset: i / (magmaStops.length - 1), 'stop-color': col}, grad));
const cbRect = make('rect', {x: cbBox.x, y: cbBox.top, width: cbBox.w, height: cbBox.bottom - cbBox.top, fill: 'url(#magmaGrad)', stroke: '#333', 'stroke-width': 1.2}, cbRoot);


colorDecades.forEach(exp => {
  const y = cbScale(exp);
  const t = make('line', {x1: cbBox.x + cbBox.w, x2: cbBox.x + cbBox.w + 7, y1: y, y2: y, stroke: '#222', 'stroke-width': 1.3}, cbRoot);
  
  
  const lab = make('text', {x: cbBox.x + cbBox.w + 13, y: y + 8, 'font-size': 17, class: 'dj'}, cbRoot);
  
  
  lab.textContent = '10';
  const sup = make('tspan', {dy: -7, 'font-size': 12.5}, lab);
  sup.textContent = String(exp);
  if (exp < 13) {
    minorMultipliers.forEach(m => {
      const my = cbScale(exp + Math.log10(m));
      const mt = make('line', {x1: cbBox.x + cbBox.w, x2: cbBox.x + cbBox.w + 4, y1: my, y2: my, stroke: '#222', 'stroke-width': 1}, cbRoot);
      
      
    });
  }
});
</script>
</body>
</html>
